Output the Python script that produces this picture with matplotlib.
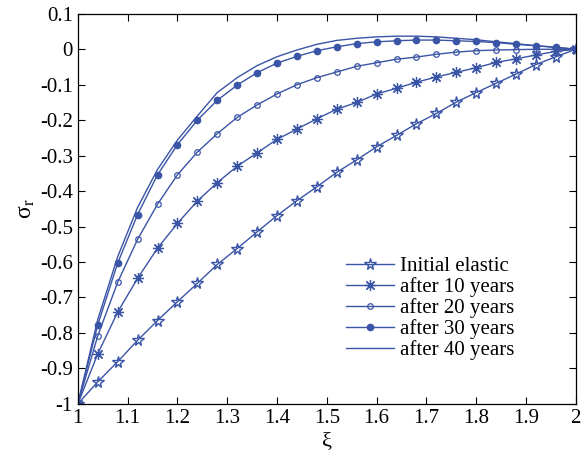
import numpy as np
import matplotlib
matplotlib.use('Agg')
import matplotlib.pyplot as plt

plt.rcParams['font.family'] = ['Liberation Serif', 'DejaVu Serif']
plt.rcParams['mathtext.fontset'] = 'stix'

xi = np.linspace(1, 2, 26)

initial_elastic = [-1, -0.938, -0.881, -0.821, -0.765, -0.712, -0.660, -0.607, -0.562,
                   -0.515, -0.469, -0.427, -0.388, -0.347, -0.312, -0.275, -0.243,
                   -0.210, -0.181, -0.149, -0.122, -0.096, -0.070, -0.043, -0.021, 0]
after_10 = [-1, -0.859, -0.741, -0.646, -0.561, -0.491, -0.428, -0.376, -0.330, -0.292,
            -0.254, -0.225, -0.196, -0.169, -0.150, -0.126, -0.110, -0.093, -0.078,
            -0.065, -0.052, -0.037, -0.027, -0.016, -0.006, 0]
after_20 = [-1, -0.808, -0.657, -0.536, -0.437, -0.354, -0.290, -0.238, -0.192, -0.157,
            -0.126, -0.100, -0.080, -0.064, -0.048, -0.038, -0.028, -0.022, -0.014,
            -0.008, -0.004, -0.002, -0.001, 0.0, 0.0, 0]
after_30 = [-1, -0.777, -0.603, -0.466, -0.354, -0.269, -0.200, -0.144, -0.101, -0.066,
            -0.039, -0.020, -0.004, 0.007, 0.016, 0.021, 0.024, 0.026, 0.026, 0.024,
            0.022, 0.019, 0.014, 0.010, 0.006, 0]
after_40 = [-1, -0.762, -0.585, -0.446, -0.339, -0.256, -0.188, -0.122, -0.080, -0.046,
            -0.021, -0.002, 0.014, 0.025, 0.031, 0.035, 0.037, 0.037, 0.035, 0.031,
            0.027, 0.021, 0.016, 0.010, 0.005, 0]

x_ticks = [1, 1.1, 1.2, 1.3, 1.4, 1.5, 1.6, 1.7, 1.8, 1.9, 2]
x_tick_labels = ['1', '1.1', '1.2', '1.3', '1.4', '1.5', '1.6', '1.7', '1.8', '1.9', '2']
y_ticks = [0.1, 0, -0.1, -0.2, -0.3, -0.4, -0.5, -0.6, -0.7, -0.8, -0.9, -1]
y_tick_labels = ['0.1', '0', '-0.1', '-0.2', '-0.3', '-0.4', '-0.5', '-0.6', '-0.7',
                 '-0.8', '-0.9', '-1']

color = '#3a54a6'

fig = plt.figure(figsize=(5.81, 4.61), dpi=100)
ax = fig.add_axes([0.134, 0.124, 0.857, 0.846])

ax.plot(xi, initial_elastic, color=color, lw=1.0, marker='*', ms=8.5,
        mfc='none', mec=color, mew=1.0, label='Initial elastic')
ax.plot(xi, after_10, color=color, lw=1.0, marker=(8, 2, 0), ms=8,
        mec=color, mew=0.9, label='after 10 years')
ax.plot(xi, after_20, color=color, lw=1.0, marker='o', ms=4,
        mfc='none', mec=color, mew=0.9, label='after 20 years')
ax.plot(xi, after_30, color=color, lw=1.0, marker='o', ms=4.5,
        mfc=color, mec=color, label='after 30 years')
ax.plot(xi, after_40, color=color, lw=1.0, label='after 40 years')

ax.set_xlim(1, 2)
ax.set_ylim(-1, 0.1)
ax.set_xticks(x_ticks)
ax.set_xticklabels(x_tick_labels)
ax.set_yticks(y_ticks)
ax.set_yticklabels(y_tick_labels)
ax.tick_params(direction='in', top=True, right=True, labelsize=15, length=5, width=0.8)
for s in ax.spines.values():
    s.set_linewidth(0.9)

ax.set_xlabel('ξ', fontsize=16, labelpad=3)
ax.set_ylabel('σ$_\\mathrm{r}$', fontsize=17, labelpad=2)

ax.legend(loc='lower right', bbox_to_anchor=(0.893, 0.091), frameon=False, fontsize=15,
          numpoints=1, handlelength=2.3, handletextpad=0.3, labelspacing=0.05,
          borderaxespad=0)

fig.savefig('out.png', dpi=100)
